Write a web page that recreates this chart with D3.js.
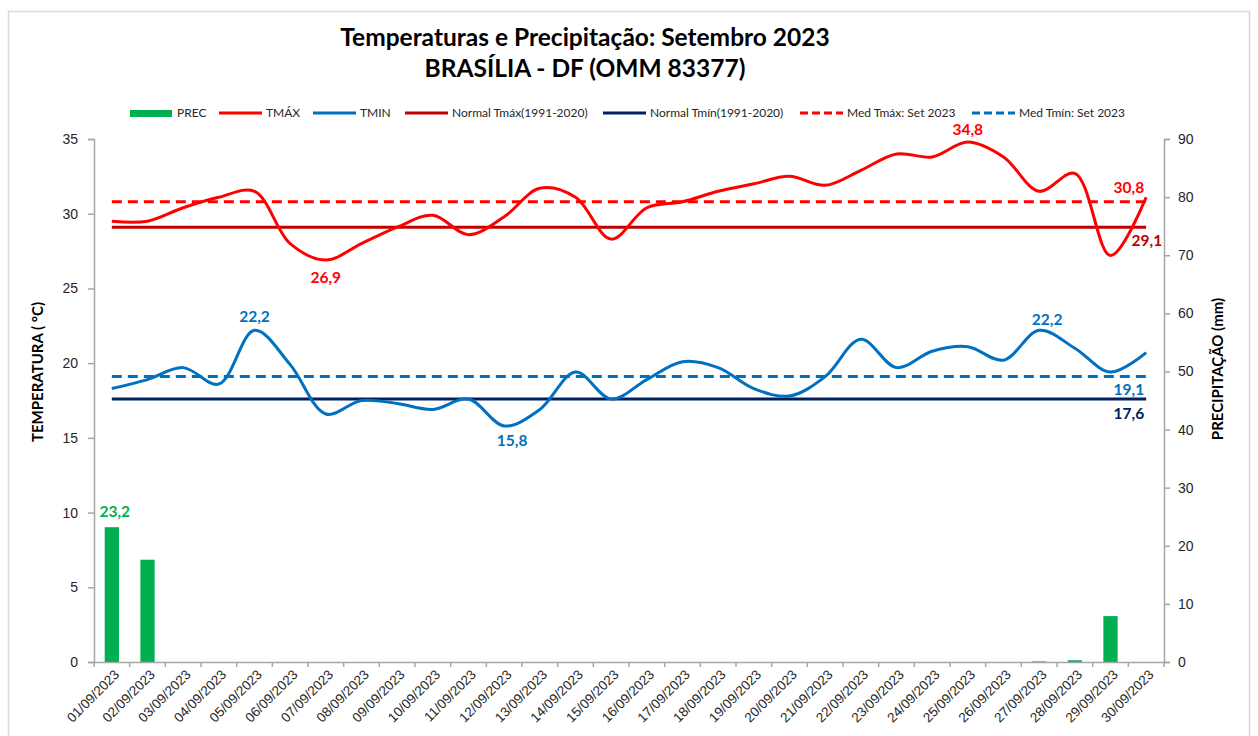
<!DOCTYPE html>
<html>
<head>
  <meta charset='utf-8'>
  <title>Temperaturas e Precipitação: Setembro 2023</title>
  <script src="https://cdnjs.cloudflare.com/ajax/libs/d3/7.8.5/d3.min.js"></script>
  <style>
    html, body { margin: 0; padding: 0; background: #fff; }
    body { font-family: Lato, 'Open Sans', 'Liberation Sans', sans-serif; }
    .axis text { font-size: 14px; fill: #262626; }
    .xaxis text { font-size: 13.5px; fill: #262626; }
    .axis path, .axis line { stroke: #a6a6a6; }
  </style>
</head>
<body>
  <svg id="chart"></svg>
  <script>
    // data
    const days = ["01/09/2023","02/09/2023","03/09/2023","04/09/2023","05/09/2023","06/09/2023",
      "07/09/2023","08/09/2023","09/09/2023","10/09/2023","11/09/2023","12/09/2023","13/09/2023",
      "14/09/2023","15/09/2023","16/09/2023","17/09/2023","18/09/2023","19/09/2023","20/09/2023",
      "21/09/2023","22/09/2023","23/09/2023","24/09/2023","25/09/2023","26/09/2023","27/09/2023",
      "28/09/2023","29/09/2023","30/09/2023"];
    const tmax = [29.5,29.5,30.4,31.1,31.5,28.0,26.9,28.0,29.1,29.9,28.6,29.8,31.7,31.1,28.3,
      30.4,30.8,31.5,32.0,32.5,31.9,32.9,34.0,33.8,34.8,33.8,31.5,32.7,27.2,31.1];
    const tmin = [18.3,18.9,19.7,18.6,22.2,19.9,16.6,17.5,17.3,16.9,17.6,15.8,16.9,19.4,17.6,
      18.9,20.1,19.7,18.3,17.8,19.1,21.6,19.7,20.8,21.1,20.2,22.2,21.0,19.4,20.7];
    const prec = [23.2,17.6,0,0,0,0,0,0,0,0,0,0,0,0,0,0,0,0,0,0,0,0,0,0,0,0,0.1,0.3,7.9,0];
    const normalTmax = 29.1;
    const normalTmin = 17.6;
    const medTmax = 30.8;
    const medTmin = 19.1;
    const tempTicks = [0,5,10,15,20,25,30,35];
    const precTicks = [0,10,20,30,40,50,60,70,80,90];

    const width = 1258, height = 736;
    const margin = {left: 94, right: 94, top: 139, bottom: 74};
    const fmt = v => v.toFixed(1).replace('.', ',');

    const svg = d3.select('#chart').attr('width', width).attr('height', height);

    // outer frame
    svg.append('rect').attr('x', 8.5).attr('y', 11.5).attr('width', 1241).attr('height', 740)
      .attr('fill', 'none').attr('stroke', '#d9d9d9').attr('stroke-width', 1.5);

    const x = d3.scaleBand().domain(days).range([margin.left, width - margin.right]);
    const yT = d3.scaleLinear().domain([0, 35]).range([height - margin.bottom, margin.top]);
    const yP = d3.scaleLinear().domain([0, 90]).range([height - margin.bottom, margin.top]);
    const cx = d => x(d) + x.bandwidth() / 2;

    // bars
    svg.append('g').selectAll('rect').data(prec).join('rect')
      .attr('x', (d, i) => cx(days[i]) - x.bandwidth() * 0.2)
      .attr('width', x.bandwidth() * 0.4)
      .attr('y', d => yP(d))
      .attr('height', d => yP(0) - yP(d))
      .attr('fill', '#00b050');

    // axes
    const xAxis = svg.append('g').attr('class', 'axis xaxis')
      .attr('transform', `translate(0,${yT(0)})`)
      .call(d3.axisBottom(x).tickSize(0).tickPadding(0));
    xAxis.select('.domain').attr('stroke-width', 1.5);
    xAxis.selectAll('.tick text')
      .attr('text-anchor', 'end')
      .attr('transform', 'translate(5,10) rotate(-45)')
      .attr('dy', '0.35em');
    // ticks between categories
    xAxis.append('g').selectAll('line').data(d3.range(days.length + 1)).join('line')
      .attr('x1', i => margin.left + i * x.step()).attr('x2', i => margin.left + i * x.step())
      .attr('y1', 0).attr('y2', 5).attr('stroke', '#a6a6a6').attr('stroke-width', 1.5);

    const yAxisL = svg.append('g').attr('class', 'axis')
      .attr('transform', `translate(${margin.left},0)`)
      .call(d3.axisLeft(yT).tickValues(tempTicks).tickSize(6).tickPadding(10).tickSizeOuter(6));
    yAxisL.selectAll('path, line').attr('stroke-width', 1.5);

    const yAxisR = svg.append('g').attr('class', 'axis')
      .attr('transform', `translate(${width - margin.right},0)`)
      .call(d3.axisRight(yP).tickValues(precTicks).tickSize(6).tickPadding(8).tickSizeOuter(6));
    yAxisR.selectAll('path, line').attr('stroke-width', 1.5);

    // reference lines
    const x0 = cx(days[0]), x1 = cx(days[days.length - 1]);
    const hline = (v, color, dash) => svg.append('line')
      .attr('x1', x0).attr('x2', x1).attr('y1', yT(v)).attr('y2', yT(v))
      .attr('stroke', color).attr('stroke-width', 3)
      .attr('stroke-dasharray', dash ? '10,6' : null);
    hline(normalTmax, '#c00000', false);
    hline(normalTmin, '#002060', false);
    hline(medTmax, '#ff0000', true);
    hline(medTmin, '#0070c0', true);

    // temperature lines
    const line = d3.line().x((d, i) => cx(days[i])).y(d => yT(d)).curve(d3.curveCatmullRom.alpha(0.5));
    svg.append('path').datum(tmax).attr('d', line).attr('fill', 'none')
      .attr('stroke', '#ff0000').attr('stroke-width', 3);
    svg.append('path').datum(tmin).attr('d', line).attr('fill', 'none')
      .attr('stroke', '#0070c0').attr('stroke-width', 3);

    // data labels
    const label = (px, py, txt, color, anchor) => svg.append('text')
      .attr('x', px).attr('y', py).attr('text-anchor', anchor || 'middle')
      .attr('dy', '0.35em').attr('font-size', 15.5).attr('font-weight', 'bold')
      .attr('fill', color).text(txt);
    label(cx(days[6]), yT(tmax[6]) + 18, fmt(tmax[6]), '#ff0000');
    label(cx(days[24]), yT(tmax[24]) - 12, fmt(tmax[24]), '#ff0000');
    label(x1 - 2, yT(medTmax) - 14, fmt(medTmax), '#ff0000', 'end');
    label(x1 + 16, yT(normalTmax) + 13, fmt(normalTmax), '#c00000', 'end');
    label(cx(days[4]), yT(tmin[4]) - 14, fmt(tmin[4]), '#0070c0');
    label(cx(days[11]) + 8, yT(tmin[11]) + 15, fmt(tmin[11]), '#0070c0');
    label(cx(days[26]) + 8, yT(tmin[26]) - 11, fmt(tmin[26]), '#0070c0');
    label(x1 - 2, yT(medTmin) + 13, fmt(medTmin), '#0070c0', 'end');
    label(x1 - 2, yT(normalTmin) + 15, fmt(normalTmin), '#002060', 'end');
    label(cx(days[0]) + 3, yP(prec[0]) - 16, fmt(prec[0]), '#00b050');

    // title
    svg.append('text').attr('x', 585).attr('y', 46).attr('text-anchor', 'middle')
      .attr('font-size', 24.5).attr('font-weight', 'bold').attr('fill', '#000')
      .text('Temperaturas e Precipitação: Setembro 2023');
    svg.append('text').attr('x', 585).attr('y', 77).attr('text-anchor', 'middle')
      .attr('font-size', 24.5).attr('font-weight', 'bold').attr('fill', '#000')
      .text('BRASÍLIA - DF (OMM 83377)');

    // axis titles
    svg.append('text').attr('transform', 'translate(43,372) rotate(-90)')
      .attr('text-anchor', 'middle').attr('font-size', 15).attr('font-weight', 'bold')
      .text('TEMPERATURA ( °C)');
    svg.append('text').attr('transform', 'translate(1223,369) rotate(-90)')
      .attr('text-anchor', 'middle').attr('font-size', 15).attr('font-weight', 'bold')
      .text('PRECIPITAÇÃO (mm)');

    // legend
    const legendItems = [
      {name: 'PREC', color: '#00b050', type: 'bar', x: 130},
      {name: 'TMÁX', color: '#ff0000', type: 'line', x: 219},
      {name: 'TMIN', color: '#0070c0', type: 'line', x: 313},
      {name: 'Normal Tmáx(1991-2020)', color: '#c00000', type: 'line', x: 405},
      {name: 'Normal Tmín(1991-2020)', color: '#002060', type: 'line', x: 603},
      {name: 'Med Tmáx: Set 2023', color: '#ff0000', type: 'dash', x: 800},
      {name: 'Med Tmín: Set 2023', color: '#0070c0', type: 'dash', x: 972}
    ];
    const lg = svg.append('g').selectAll('g').data(legendItems).join('g')
      .attr('transform', d => `translate(${d.x},113)`);
    lg.filter(d => d.type === 'bar').append('rect')
      .attr('x', 0).attr('y', -3).attr('width', 42).attr('height', 7).attr('fill', d => d.color);
    lg.filter(d => d.type !== 'bar').append('line')
      .attr('x1', 0).attr('x2', 43).attr('y1', 0).attr('y2', 0)
      .attr('stroke', d => d.color).attr('stroke-width', 3)
      .attr('stroke-dasharray', d => d.type === 'dash' ? '8,4' : null);
    lg.append('text').attr('x', 47).attr('dy', '0.35em').attr('font-size', 12)
      .attr('fill', '#262626').text(d => d.name);
  </script>
</body>
</html>
